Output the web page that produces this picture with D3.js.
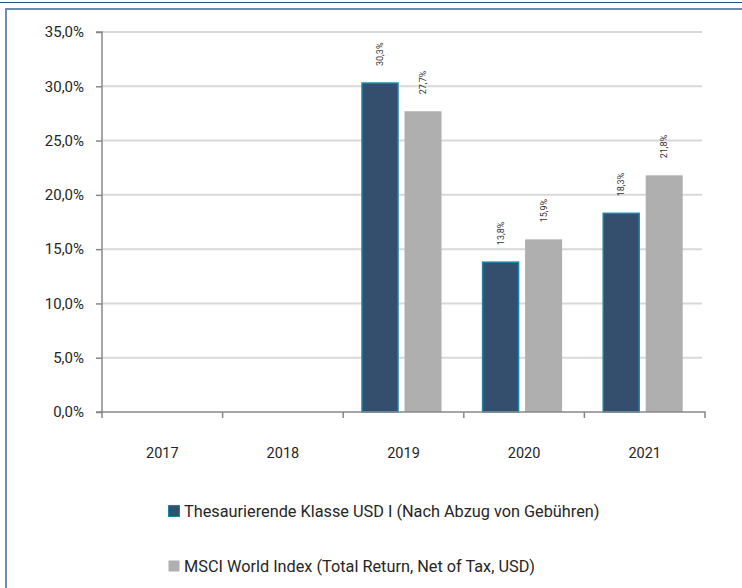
<!DOCTYPE html>
<html><head><meta charset="utf-8">
<script src="https://cdn.jsdelivr.net/npm/d3@7"></script>
<style>body{margin:0;background:#fff}</style>
</head><body>
<script>
const categories = ["2017","2018","2019","2020","2021"];
const seriesNames = ["Thesaurierende Klasse USD I (Nach Abzug von Gebühren)","MSCI World Index (Total Return, Net of Tax, USD)"];
const fundValues = [null,null,30.3,13.8,18.3];
const indexValues = [null,null,27.7,15.9,21.8];
const yTicks = [0,5,10,15,20,25,30,35];

const W=742,H=588;
const svg=d3.select("body").append("svg").attr("width",W).attr("height",H);
const font="Roboto,'Liberation Sans',sans-serif";
const fw=400;

// frame
svg.append("line").attr("x1",0).attr("x2",W).attr("y1",2.5).attr("y2",2.5).attr("stroke","#2f4f73").attr("stroke-width",1);
svg.append("path").attr("d",`M6,${H} V9 H${W}`).attr("fill","none").attr("stroke","#6a8db0").attr("stroke-width",2);

const m={l:102,r:705,t:32,b:412};
const x=d3.scaleBand().domain(categories).range([m.l,m.r]);
const y=d3.scaleLinear().domain([0,35]).range([m.b,m.t]);
const fmt=v=>d3.format(".1f")(v).replace(".",",")+"%";

// gridlines
svg.append("g").selectAll("line").data(yTicks.filter(d=>d>0)).join("line")
 .attr("x1",m.l).attr("x2",m.r-3).attr("y1",d=>y(d)).attr("y2",d=>y(d))
 .attr("stroke","#d9d9d9").attr("stroke-width",2);

// y axis
const ya=svg.append("g").attr("transform",`translate(${m.l},0)`)
 .call(d3.axisLeft(y).tickValues(yTicks).tickFormat(fmt).tickSize(6).tickPadding(12));
ya.select(".domain").attr("stroke","#888").attr("stroke-width",1.5).attr("d",`M-6,${m.t}H0V${m.b}H-6`);
ya.selectAll(".tick line").attr("stroke","#888").attr("stroke-width",1.5);
ya.selectAll("text").attr("font-family",font).attr("font-weight",fw).attr("font-size",15).attr("fill","#262626");

// bars
const bw=37, gap=6, shift=-2;
const data=categories.map((c,i)=>({c,f:fundValues[i],m:indexValues[i]}));
const cx=d=>x(d.c)+x.bandwidth()/2+shift;
const g=svg.append("g");
data.filter(d=>d.f!=null).forEach(d=>{
  const c=cx(d);
  g.append("rect").attr("x",c-gap/2-bw+0.5).attr("y",y(d.f)).attr("width",bw-1).attr("height",y(0)-y(d.f))
   .attr("fill","#344f6e").attr("stroke","#1a86a6").attr("stroke-width",1.5);
  g.append("rect").attr("x",c+gap/2).attr("y",y(d.m)).attr("width",bw).attr("height",y(0)-y(d.m))
   .attr("fill","#afafb0");
  [[c-gap/2-bw/2,d.f],[c+gap/2+bw/2,d.m]].forEach(([lx,v])=>{
    g.append("text").attr("transform",`translate(${lx+3},${y(v)-17}) rotate(-90)`)
     .attr("font-family",font).attr("font-weight",fw).attr("font-size",9).attr("fill","#333").text(fmt(v));
  });
});

// x axis
const xa=svg.append("g").attr("transform",`translate(0,${m.b})`)
 .call(d3.axisBottom(x).tickSize(0).tickPadding(36));
xa.select(".domain").attr("stroke","#888").attr("stroke-width",1.5).attr("d",`M${m.l},6V0H${m.r}V6`);
xa.selectAll(".tick text").attr("font-family",font).attr("font-weight",fw).attr("font-size",14.5).attr("fill","#262626");
svg.append("g").selectAll("line").data(categories.slice(1)).join("line")
 .attr("x1",d=>x(d)).attr("x2",d=>x(d)).attr("y1",m.b).attr("y2",m.b+6).attr("stroke","#888").attr("stroke-width",1.5);

// legend
const leg=[{n:seriesNames[0],fill:"#344f6e",stroke:"#1a86a6",y:517},{n:seriesNames[1],fill:"#afafb0",stroke:"none",y:572}];
leg.forEach(l=>{
  svg.append("rect").attr("x",168.5).attr("y",l.y-11.5).attr("width",11).attr("height",11).attr("fill",l.fill).attr("stroke",l.stroke);
  svg.append("text").attr("x",184).attr("y",l.y).attr("font-family",font).attr("font-weight",fw).attr("font-size",16.3).attr("fill","#262626").text(l.n);
});
</script>
</body></html>
